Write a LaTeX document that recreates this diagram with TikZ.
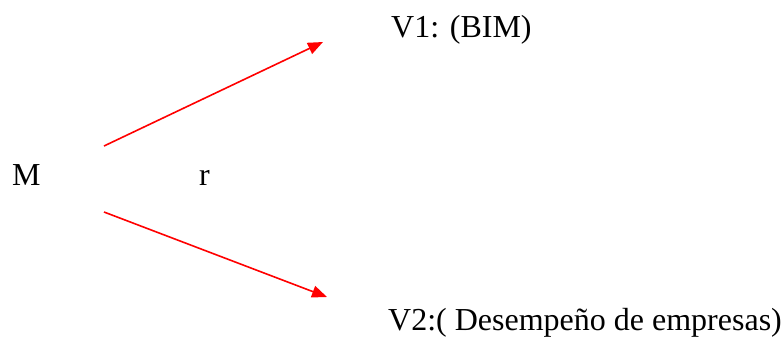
\documentclass[tikz,border=0pt]{standalone}
\usepackage{fontspec}
\setmainfont{Liberation Serif}
\usetikzlibrary{arrows.meta}
\begin{document}
\begin{tikzpicture}[x=1pt,y=-1pt,
  lbl/.style={anchor=base west,inner sep=0pt,font=\fontsize{32}{38}\selectfont},
  conn/.style={draw=red,line width=1.6pt,-{Triangle[length=15pt,width=12pt]}}]
\useasboundingbox (0,0) rectangle (782,338);
\node[lbl] (m) at (12,185) {M};
\node[lbl] (r) at (199,185) {r};
\node[lbl] (v1) at (391,37) {V1: (BIM)};
\node[lbl] (v2) at (388,330) {V2:( Desempeño de empresas)};
\coordinate (s1) at (104,146);
\coordinate (e1) at (323,42);
\coordinate (s2) at (104,212);
\coordinate (e2) at (327,297);
\draw[conn] (s1) -- (e1);
\draw[conn] (s2) -- (e2);
\end{tikzpicture}
\end{document}
